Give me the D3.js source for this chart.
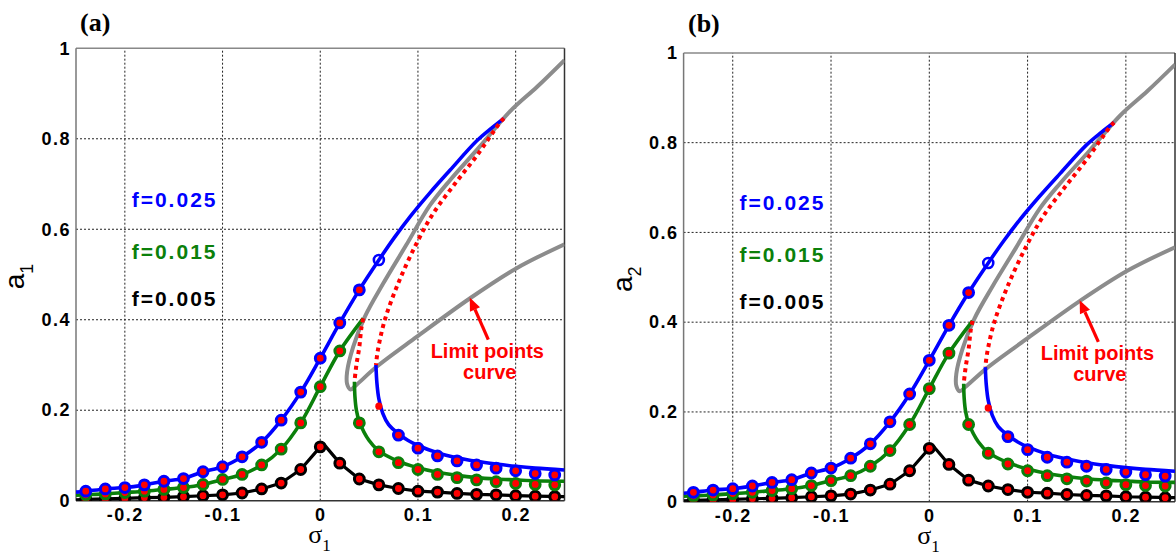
<!DOCTYPE html>
<html>
<head>
<meta charset="utf-8">
<title>Frequency response curves</title>
<script src="https://d3js.org/d3.v7.min.js"></script>
<style>
  body { margin: 0; padding: 0; background: #fff; }
  .tick text {
    font-family: Arial, "Liberation Sans", sans-serif;
    font-weight: bold;
    font-size: 18px;
    letter-spacing: 1.5px;
    fill: #000;
  }
  .grid line { stroke: #222; stroke-width: 1; stroke-dasharray: 2,2; }
  .flabel { font-family: Arial, "Liberation Sans", sans-serif; font-weight: bold; font-size: 21px; letter-spacing: 2px; }
  .note { font-family: Arial, "Liberation Sans", sans-serif; font-weight: bold; font-size: 20px; fill: #ff0000; text-anchor: middle; }
</style>
</head>
<body>
<svg id="chart" width="1176" height="557"></svg>
<script>

var xTicks = [-0.2, -0.1, 0, 0.1, 0.2];
var xTickLabels = ["-0.2", "-0.1", "0", "0.1", "0.2"];
var yTicks = [0, 0.2, 0.4, 0.6, 0.8, 1];
var yTickLabels = ["0", "0.2", "0.4", "0.6", "0.8", "1"];
var forceLabels = ["f=0.025", "f=0.015", "f=0.005"];

// f = 0.025 : stable upper branch, unstable middle branch, stable lower branch
var blueUpper = [[-0.25, 0.019], [-0.24, 0.021], [-0.22, 0.026], [-0.20, 0.029], [-0.18, 0.035],
  [-0.16, 0.043], [-0.14, 0.049], [-0.12, 0.064], [-0.10, 0.075], [-0.08, 0.097], [-0.06, 0.129],
  [-0.04, 0.178], [-0.02, 0.24], [0, 0.315], [0.02, 0.393], [0.04, 0.466], [0.06, 0.532],
  [0.076, 0.582], [0.092, 0.628], [0.112, 0.68], [0.133, 0.731], [0.16, 0.795], [0.175, 0.823], [0.188, 0.845]];
var blueUnstable = [[0.188, 0.845], [0.1834, 0.834], [0.16, 0.762], [0.138, 0.701], [0.1156, 0.635],
  [0.0986, 0.569], [0.0797, 0.48], [0.066, 0.399], [0.059, 0.333], [0.057, 0.30]];
var blueLower = [[0.057, 0.30], [0.058, 0.26], [0.060, 0.225], [0.064, 0.193], [0.07, 0.168],
  [0.08, 0.148], [0.09, 0.133], [0.10, 0.122], [0.12, 0.106], [0.14, 0.095], [0.16, 0.087],
  [0.18, 0.081], [0.20, 0.076], [0.22, 0.072], [0.25, 0.068]];
var blueMarks = [[-0.24, 0.021], [-0.22, 0.026], [-0.20, 0.029], [-0.18, 0.035], [-0.16, 0.043],
  [-0.14, 0.049], [-0.12, 0.064], [-0.10, 0.075], [-0.08, 0.097], [-0.06, 0.129], [-0.04, 0.178],
  [-0.02, 0.24], [0, 0.315], [0.02, 0.393], [0.04, 0.466],
  [0.08, 0.145], [0.10, 0.116], [0.12, 0.099], [0.14, 0.088], [0.16, 0.079], [0.18, 0.072],
  [0.20, 0.066], [0.22, 0.060], [0.24, 0.057]];
var blueOpen = [[0.06, 0.532]];
var blueDot = [[0.06, 0.209]];

// f = 0.015
var greenUpper = [[-0.25, 0.012], [-0.24, 0.013], [-0.22, 0.015], [-0.20, 0.018], [-0.18, 0.021],
  [-0.16, 0.025], [-0.14, 0.029], [-0.12, 0.036], [-0.10, 0.047], [-0.08, 0.058], [-0.06, 0.079],
  [-0.04, 0.114], [-0.02, 0.172], [0, 0.252], [0.02, 0.331], [0.044, 0.403]];
var greenUnstable = [[0.044, 0.403], [0.042, 0.38], [0.040, 0.34], [0.037, 0.30], [0.035, 0.263]];
var greenLower = [[0.035, 0.263], [0.0355, 0.23], [0.037, 0.2], [0.04, 0.175], [0.05, 0.133],
  [0.06, 0.11], [0.08, 0.087], [0.10, 0.073], [0.12, 0.063], [0.14, 0.056], [0.16, 0.051],
  [0.18, 0.048], [0.20, 0.046], [0.22, 0.044], [0.25, 0.043]];
var greenMarks = [[-0.24, 0.013], [-0.22, 0.015], [-0.20, 0.018], [-0.18, 0.021], [-0.16, 0.025],
  [-0.14, 0.029], [-0.12, 0.036], [-0.10, 0.047], [-0.08, 0.058], [-0.06, 0.079], [-0.04, 0.114],
  [-0.02, 0.172], [0, 0.252], [0.02, 0.331],
  [0.04, 0.172], [0.06, 0.108], [0.08, 0.084], [0.10, 0.069], [0.12, 0.058], [0.14, 0.051],
  [0.16, 0.046], [0.18, 0.042], [0.20, 0.038], [0.22, 0.036], [0.24, 0.035]];

// f = 0.005
var blackLine = [[-0.25, 0.002], [-0.24, 0.003], [-0.22, 0.004], [-0.20, 0.005], [-0.18, 0.0066],
  [-0.16, 0.0075], [-0.14, 0.009], [-0.12, 0.011], [-0.10, 0.013], [-0.08, 0.017], [-0.06, 0.026],
  [-0.04, 0.039], [-0.02, 0.069], [0, 0.119], [0.004, 0.124], [0.02, 0.083], [0.04, 0.048],
  [0.06, 0.035], [0.08, 0.027], [0.10, 0.021], [0.12, 0.019], [0.14, 0.016], [0.16, 0.014],
  [0.18, 0.013], [0.20, 0.011], [0.22, 0.010], [0.25, 0.009]];
var blackMarks = [[-0.24, 0.003], [-0.22, 0.004], [-0.20, 0.005], [-0.18, 0.0066], [-0.16, 0.0075],
  [-0.14, 0.009], [-0.12, 0.011], [-0.10, 0.013], [-0.08, 0.017], [-0.06, 0.026], [-0.04, 0.039],
  [-0.02, 0.069], [0, 0.119], [0.02, 0.083], [0.04, 0.048], [0.06, 0.035], [0.08, 0.027],
  [0.10, 0.021], [0.12, 0.019], [0.14, 0.016], [0.16, 0.014], [0.18, 0.013], [0.20, 0.011],
  [0.22, 0.010], [0.24, 0.009]];

// locus of the saddle-node (limit) points
var limitCurve = [[0.25, 0.974], [0.222, 0.915], [0.194, 0.86], [0.163, 0.782], [0.133, 0.709],
  [0.112, 0.652], [0.088, 0.565], [0.0644, 0.48], [0.0457, 0.407], [0.0337, 0.34], [0.0275, 0.285],
  [0.0275, 0.258], [0.031, 0.246], [0.037, 0.256], [0.0576, 0.296], [0.0986, 0.362],
  [0.153, 0.447], [0.201, 0.514], [0.25, 0.567]];

var panels = [
  { title: "(a)", sub: "1", xr: [76, 564.5], yr: [500.7, 48.3], tx: 80, ty: 31 },
  { title: "(b)", sub: "2", xr: [683.6, 1175], yr: [501.7, 52.9], tx: 688, ty: 32 }
];

var svg = d3.select("#chart");

function drawPanel(p, k) {
  var x = d3.scaleLinear().domain([-0.25, 0.25]).range(p.xr);
  var y = d3.scaleLinear().domain([0, 1]).range(p.yr);
  var g = svg.append("g");

  g.append("clipPath").attr("id", "clip" + k)
    .append("rect")
      .attr("x", x(-0.25)).attr("y", y(1))
      .attr("width", x(0.25) - x(-0.25)).attr("height", y(0) - y(1));

  // dotted grid
  var grid = g.append("g").attr("class", "grid");
  grid.selectAll(".gx").data(xTicks).enter().append("line")
    .attr("x1", function(d) { return x(d); }).attr("x2", function(d) { return x(d); })
    .attr("y1", y(0)).attr("y2", y(1));
  grid.selectAll(".gy").data(yTicks.slice(1, -1)).enter().append("line")
    .attr("y1", function(d) { return y(d); }).attr("y2", function(d) { return y(d); })
    .attr("x1", x(-0.25)).attr("x2", x(0.25));

  // box
  g.append("line").attr("x1", x(-0.25)).attr("x2", x(0.25)).attr("y1", y(1)).attr("y2", y(1))
    .attr("stroke", "#888").attr("stroke-width", 1.5);
  g.append("line").attr("x1", x(-0.25)).attr("x2", x(-0.25)).attr("y1", y(0)).attr("y2", y(1))
    .attr("stroke", "#777").attr("stroke-width", 1.5);
  g.append("line").attr("x1", x(0.25)).attr("x2", x(0.25)).attr("y1", y(0)).attr("y2", y(1))
    .attr("stroke", "#333").attr("stroke-width", 1.5);
  g.append("line").attr("x1", x(-0.25)).attr("x2", x(0.25)).attr("y1", y(0)).attr("y2", y(0))
    .attr("stroke", "#333").attr("stroke-width", 1.5);

  // axes
  g.append("g")
      .attr("transform", "translate(0," + y(0) + ")")
      .call(d3.axisBottom(x).tickValues(xTicks)
        .tickFormat(function(d, i) { return xTickLabels[i]; })
        .tickSize(0).tickPadding(8))
      .call(function(a) { a.select(".domain").remove(); });
  g.append("g")
      .attr("transform", "translate(" + x(-0.25) + ",0)")
      .call(d3.axisLeft(y).tickValues(yTicks)
        .tickFormat(function(d, i) { return yTickLabels[i]; })
        .tickSize(0).tickPadding(5))
      .call(function(a) { a.select(".domain").remove(); });

  // axis titles
  var yl = g.append("text")
      .attr("transform", "translate(" + (x(-0.25) - 52) + "," + ((y(0) + y(1)) / 2 + 2) + ") rotate(-90)")
      .attr("text-anchor", "middle")
      .style("font-family", "Arial, 'Liberation Sans', sans-serif")
      .style("font-size", "28px");
  yl.append("tspan").text("a");
  yl.append("tspan").attr("dy", 9).style("font-size", "18px").text(p.sub);

  var xl = g.append("text")
      .attr("x", x(0) - 12).attr("y", y(0) + 42)
      .style("font-family", "'Liberation Serif', 'Times New Roman', serif")
      .style("font-size", "26px");
  xl.append("tspan").text("σ");
  xl.append("tspan").attr("dy", 8).style("font-size", "17px").text("1");

  g.append("text")
      .attr("x", p.tx).attr("y", p.ty)
      .style("font-family", "'Liberation Serif', 'Times New Roman', serif")
      .style("font-weight", "bold").style("font-size", "26px")
      .text(p.title);

  var plot = g.append("g").attr("clip-path", "url(#clip" + k + ")");
  var smooth = d3.line().x(function(d) { return x(d[0]); }).y(function(d) { return y(d[1]); })
      .curve(d3.curveCatmullRom.alpha(0.5));
  var straight = d3.line().x(function(d) { return x(d[0]); }).y(function(d) { return y(d[1]); });

  function path(data, gen, color, w, dash) {
    plot.append("path").datum(data)
      .attr("d", gen)
      .attr("fill", "none")
      .attr("stroke", color)
      .attr("stroke-width", w)
      .attr("stroke-linejoin", "round")
      .attr("stroke-dasharray", dash || null);
  }

  path(limitCurve, smooth, "#8c8c8c", 4);
  path(blackLine, straight, "#000", 3.2);
  path(greenUpper, smooth, "#0b800b", 3.6);
  path(greenLower, smooth, "#0b800b", 3.6);
  path(blueUpper, smooth, "#0000ff", 3.6);
  path(blueLower, smooth, "#0000ff", 3.6);
  path(blueUnstable, smooth, "#ff0000", 4, "4,4");
  path(greenUnstable, smooth, "#ff0000", 4, "4,4");

  function marks(data, ring, r, sw, fill) {
    plot.append("g").selectAll("circle").data(data).enter().append("circle")
      .attr("cx", function(d) { return x(d[0]); })
      .attr("cy", function(d) { return y(d[1]); })
      .attr("r", r)
      .attr("fill", fill)
      .attr("stroke", ring)
      .attr("stroke-width", sw);
  }

  marks(blackMarks, "#000", 4.9, 3, "#ff0000");
  marks(greenMarks, "#0b800b", 4.9, 3, "#ff0000");
  marks(blueMarks, "#0000ff", 4.9, 3, "#ff0000");
  marks(blueOpen, "#0000ff", 5, 2.6, "none");
  marks(blueDot, "none", 3.6, 0, "#ff0000");

  // force labels
  var fColors = ["#0000ff", "#0b800b", "#000"];
  var fLevels = [0.65, 0.535, 0.43];
  g.selectAll(".flabel").data(forceLabels).enter().append("text")
      .attr("class", "flabel")
      .attr("x", x(-0.193))
      .attr("y", function(d, i) { return y(fLevels[i]); })
      .attr("fill", function(d, i) { return fColors[i]; })
      .text(function(d) { return d; });

  // annotation
  g.append("text").attr("class", "note").attr("x", x(0.171)).attr("y", y(0.316)).text("Limit points");
  g.append("text").attr("class", "note").attr("x", x(0.1735)).attr("y", y(0.27)).text("curve");

  var x0 = x(0.172), y0 = y(0.356), x1 = x(0.153), y1 = y(0.449);
  var ang = Math.atan2(y1 - y0, x1 - x0);
  var hl = 13, hw = 5.5;
  var bx = x1 - hl * Math.cos(ang), by = y1 - hl * Math.sin(ang);
  g.append("line").attr("x1", x0).attr("y1", y0).attr("x2", bx).attr("y2", by)
    .attr("stroke", "#ff0000").attr("stroke-width", 3.2);
  g.append("polygon")
    .attr("points", [
      [x1, y1],
      [bx + hw * Math.sin(ang), by - hw * Math.cos(ang)],
      [bx - hw * Math.sin(ang), by + hw * Math.cos(ang)]
    ].map(function(q) { return q.join(","); }).join(" "))
    .attr("fill", "#ff0000");
}

panels.forEach(drawPanel);

</script>
</body>
</html>
